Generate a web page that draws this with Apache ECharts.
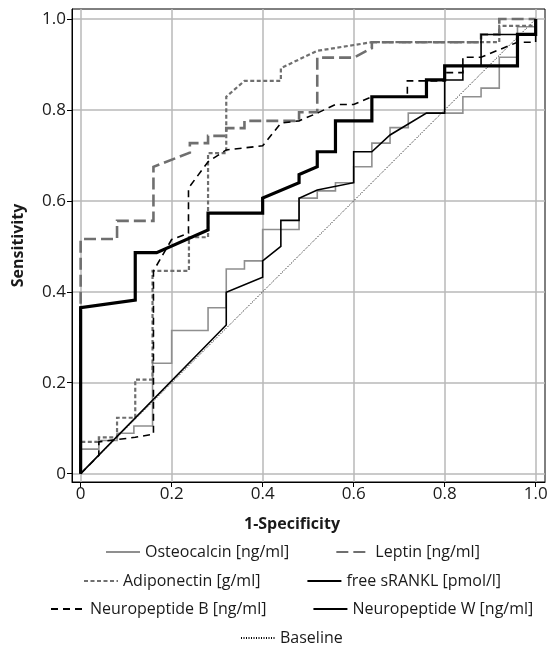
<!DOCTYPE html>
<html>
<head>
<meta charset="utf-8">
<script src="https://cdn.jsdelivr.net/npm/echarts@6/dist/echarts.min.js"></script>
<style>
html,body{margin:0;padding:0;background:#fff;}
#chart{width:554px;height:648px;}
</style>
</head>
<body>
<div id="chart"></div>
<script>
const tickValues = [0, 0.2, 0.4, 0.6, 0.8, 1.0];
const xTickLabels = ['0', '0.2', '0.4', '0.6', '0.8', '1.0'];
const yTickLabels = ['0', '0.2', '0.4', '0.6', '0.8', '1.0'];

const seriesNames = ['Osteocalcin [ng/ml]', 'Leptin [ng/ml]', 'Adiponectin [g/ml]',
  'free sRANKL [pmol/l]', 'Neuropeptide B [ng/ml]', 'Neuropeptide W [ng/ml]', 'Baseline'];

const osteocalcin = [[0,0],[0,0.054],[0.04,0.054],[0.04,0.073],[0.08,0.073],[0.08,0.089],[0.117,0.089],[0.117,0.105],[0.158,0.105],[0.158,0.243],[0.2,0.243],[0.2,0.315],[0.28,0.315],[0.28,0.365],[0.32,0.365],[0.32,0.45],[0.36,0.45],[0.36,0.468],[0.40,0.468],[0.40,0.537],[0.48,0.537],[0.48,0.606],[0.52,0.606],[0.52,0.622],[0.56,0.622],[0.56,0.64],[0.60,0.64],[0.60,0.675],[0.64,0.675],[0.64,0.727],[0.68,0.727],[0.68,0.761],[0.72,0.761],[0.72,0.793],[0.84,0.793],[0.84,0.829],[0.88,0.829],[0.88,0.848],[0.92,0.848],[0.92,0.916],[0.96,0.916],[0.96,0.983],[1,0.983],[1,1]];

const leptin = [[0,0],[0,0.516],[0.08,0.516],[0.08,0.556],[0.16,0.556],[0.16,0.675],[0.24,0.706],[0.24,0.727],[0.28,0.727],[0.28,0.743],[0.32,0.743],[0.32,0.76],[0.36,0.76],[0.36,0.776],[0.48,0.776],[0.48,0.795],[0.52,0.795],[0.52,0.915],[0.60,0.915],[0.64,0.936],[0.64,0.949],[0.88,0.949],[0.88,0.966],[0.92,0.966],[0.92,1.0],[1,1]];

const adiponectin = [[0,0],[0,0.07],[0.04,0.07],[0.04,0.08],[0.08,0.08],[0.08,0.123],[0.12,0.123],[0.12,0.207],[0.158,0.207],[0.158,0.446],[0.238,0.446],[0.238,0.52],[0.28,0.52],[0.28,0.705],[0.32,0.705],[0.32,0.829],[0.36,0.864],[0.44,0.864],[0.44,0.892],[0.52,0.93],[0.64,0.949],[0.92,0.949],[0.92,0.985],[1,0.985],[1,1]];

const sRANKL = [[0,0],[0.32,0.327],[0.32,0.399],[0.40,0.432],[0.40,0.468],[0.44,0.50],[0.44,0.557],[0.48,0.557],[0.48,0.606],[0.52,0.624],[0.60,0.64],[0.60,0.708],[0.64,0.708],[0.68,0.745],[0.76,0.793],[0.80,0.793],[0.80,0.866],[0.84,0.866],[0.84,0.897],[0.88,0.897],[0.88,0.966],[1,0.966],[1,1]];

const neuropeptideB = [[0,0],[0.04,0.04],[0.04,0.07],[0.08,0.075],[0.12,0.08],[0.16,0.087],[0.16,0.446],[0.2,0.515],[0.237,0.529],[0.237,0.628],[0.28,0.686],[0.32,0.712],[0.40,0.721],[0.44,0.771],[0.48,0.776],[0.52,0.793],[0.56,0.812],[0.60,0.812],[0.64,0.829],[0.718,0.829],[0.718,0.864],[0.80,0.864],[0.80,0.882],[0.84,0.882],[0.84,0.916],[0.88,0.916],[0.96,0.949],[1,0.949],[1,1]];

const neuropeptideW = [[0,0],[0,0.365],[0.12,0.382],[0.12,0.486],[0.167,0.486],[0.28,0.536],[0.28,0.573],[0.40,0.573],[0.40,0.606],[0.48,0.64],[0.48,0.658],[0.52,0.675],[0.52,0.708],[0.56,0.708],[0.56,0.776],[0.64,0.776],[0.64,0.829],[0.76,0.829],[0.76,0.866],[0.80,0.866],[0.80,0.897],[0.96,0.897],[0.96,0.966],[1,0.966],[1,1]];

const baseline = [[0,0],[1,1]];

const FONT = 'Open Sans';
const FSIZE = 16;
const TICK_FSIZE = 17;
const chart = echarts.init(document.getElementById('chart'), null, {renderer: 'canvas'});

const measureCtx = document.createElement('canvas').getContext('2d');
measureCtx.font = FSIZE + 'px "' + FONT + '"';
const ICON_W = 34, ICON_GAP = 5, ITEM_GAP = 46, ROW_CENTER = 291;

function ser(name, data, color, width, type, z) {
  return {
    name: name, type: 'line', data: data, symbol: 'none', showSymbol: false,
    lineStyle: {color: color, width: width, type: type, cap: 'butt', join: 'miter'},
    itemStyle: {color: color},
    z: z, animation: false, emphasis: {disabled: true}
  };
}

function legendRow(names, top) {
  let w = 0;
  names.forEach(function (n, i) {
    w += ICON_W + ICON_GAP + measureCtx.measureText(n).width + (i > 0 ? ITEM_GAP : 0);
  });
  return {
    data: names, orient: 'horizontal', left: Math.round(ROW_CENTER - w / 2), top: top,
    itemWidth: ICON_W, itemHeight: 12, itemGap: ITEM_GAP, padding: 0,
    selectedMode: false,
    itemStyle: {opacity: 0},
    textStyle: {fontFamily: FONT, fontSize: FSIZE, color: '#1a1a1a', lineHeight: 20}
  };
}

const option = {
  animation: false,
  backgroundColor: '#fff',
  grid: {left: 72, right: 9, top: 9, bottom: 166, show: true, borderColor: '#000', borderWidth: 1},
  xAxis: {
    type: 'value', min: -0.019, max: 1.0205,
    name: '1-Specificity', nameLocation: 'middle', nameGap: 34,
    nameTextStyle: {fontFamily: FONT, fontSize: FSIZE, fontWeight: 'bold', color: '#1a1a1a', padding: [0, 33, 0, 0]},
    axisLine: {show: true, onZero: false, lineStyle: {color: '#000', width: 1}},
    axisTick: {show: true, length: 5, customValues: tickValues, lineStyle: {color: '#000'}},
    axisLabel: {customValues: tickValues, fontFamily: FONT, fontSize: TICK_FSIZE, color: '#1a1a1a', margin: 4,
      formatter: function (v) { return xTickLabels[tickValues.indexOf(Math.round(v * 10) / 10)]; }},
    splitLine: {show: true, lineStyle: {color: '#b8b8b8', width: 1.5}}
  },
  yAxis: {
    type: 'value', min: -0.0183, max: 1.022,
    name: 'Sensitivity', nameLocation: 'middle', nameGap: 46,
    nameTextStyle: {fontFamily: FONT, fontSize: FSIZE, fontWeight: 'bold', color: '#1a1a1a'},
    axisLine: {show: true, onZero: false, lineStyle: {color: '#000', width: 1}},
    axisTick: {show: true, length: 5, customValues: tickValues, lineStyle: {color: '#000'}},
    axisLabel: {customValues: tickValues, fontFamily: FONT, fontSize: TICK_FSIZE, color: '#1a1a1a', margin: 6,
      formatter: function (v) { return yTickLabels[tickValues.indexOf(Math.round(v * 10) / 10)]; }},
    splitLine: {show: true, lineStyle: {color: '#b8b8b8', width: 1.5}}
  },
  legend: [
    legendRow([seriesNames[0], seriesNames[1]], 542),
    legendRow([seriesNames[2], seriesNames[3]], 571),
    legendRow([seriesNames[4], seriesNames[5]], 599),
    legendRow([seriesNames[6]], 628)
  ],
  series: [
    ser(seriesNames[6], baseline, '#000', 1, [1, 1.5], 1),
    ser(seriesNames[0], osteocalcin, '#8f8f8f', 1.6, 'solid', 2),
    ser(seriesNames[1], leptin, '#6f6f6f', 2.6, [12, 5], 3),
    ser(seriesNames[2], adiponectin, '#6f6f6f', 2.2, [4, 2.5], 4),
    ser(seriesNames[3], sRANKL, '#000', 1.6, 'solid', 5),
    ser(seriesNames[4], neuropeptideB, '#000', 1.6, [7, 5], 6),
    ser(seriesNames[5], neuropeptideW, '#000', 3.2, 'solid', 7)
  ]
};
chart.setOption(option);
</script>
</body>
</html>
